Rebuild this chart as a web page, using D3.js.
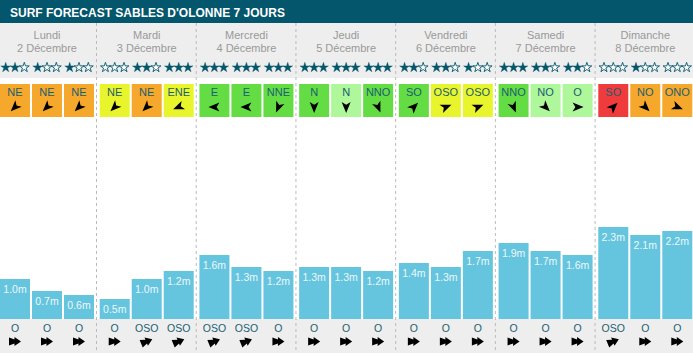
<!DOCTYPE html>
<html>
<head>
<meta charset="utf-8">
<script src="https://cdn.jsdelivr.net/npm/d3@7"></script>
<style>
	body { margin: 0; background: #fff; }
	svg { display: block; font-family: "Liberation Sans", Arial, Helvetica, sans-serif; }
</style>
</head>
<body>
<svg id="chart"></svg>
<script>
const title = "SURF FORECAST SABLES D'OLONNE 7 JOURS"
const days = ['Lundi', 'Mardi', 'Mercredi', 'Jeudi', 'Vendredi', 'Samedi', 'Dimanche']
const dates = ['2 Décembre', '3 Décembre', '4 Décembre', '5 Décembre', '6 Décembre', '7 Décembre', '8 Décembre']

// 3 creneaux par jour
const stars = [[2, 1, 1], [0, 2, 3], [3, 3, 3], [3, 3, 3], [2, 2, 1], [3, 2, 2], [0, 1, 0]]
const windDirs = [
	['NE', 'NE', 'NE'], ['NE', 'NE', 'ENE'], ['E', 'E', 'NNE'], ['N', 'N', 'NNO'],
	['SO', 'OSO', 'OSO'], ['NNO', 'NO', 'O'], ['SO', 'NO', 'ONO']
]
const windRating = [
	['orange', 'orange', 'orange'], ['jaune', 'orange', 'jaune'], ['vert', 'vert', 'vert'],
	['vert', 'vertclair', 'vert'], ['vert', 'jaune', 'jaune'], ['vert', 'vertclair', 'vertclair'],
	['rouge', 'orange', 'orange']
]
const waveHeights = [
	[1.0, 0.7, 0.6], [0.5, 1.0, 1.2], [1.6, 1.3, 1.2], [1.3, 1.3, 1.2],
	[1.4, 1.3, 1.7], [1.9, 1.7, 1.6], [2.3, 2.1, 2.2]
]
const swellDirs = [
	['O', 'O', 'O'], ['O', 'OSO', 'OSO'], ['OSO', 'OSO', 'O'], ['O', 'O', 'O'],
	['O', 'O', 'O'], ['O', 'O', 'O'], ['OSO', 'O', 'O']
]

const compass = ['N', 'NNE', 'NE', 'ENE', 'E', 'ESE', 'SE', 'SSE', 'S', 'SSO', 'SO', 'OSO', 'O', 'ONO', 'NO', 'NNO']
const angleOf = dir => compass.indexOf(dir) * 22.5

const width = 693
const height = 353
const teal = '#03566b'

const slots = []
days.forEach((day, i) => {
	d3.range(3).forEach(s => {
		slots.push({
			day, s,
			stars: stars[i][s],
			wind: windDirs[i][s],
			rating: windRating[i][s],
			wave: waveHeights[i][s],
			swell: swellDirs[i][s]
		})
	})
})

const scaleDay = d3.scaleBand().domain(days).range([0, 698])
const scaleSlot = d3.scaleBand().domain([0, 1, 2]).range([0, 94]).paddingInner(0.0625)
const scaleY = d3.scaleLinear().domain([0, 2.5]).range([319, 219])
const scaleRating = d3.scaleOrdinal()
	.domain(['rouge', 'orange', 'jaune', 'vertclair', 'vert'])
	.range(['#ef3b3b', '#f6a82c', '#e9f52c', '#aef79b', '#64dd45'])

const slotX = d => scaleDay(d.day) + scaleSlot(d.s)
const bw = scaleSlot.bandwidth()

const $svg = d3.select('#chart').attr('width', width).attr('height', height)

// fonds
$svg.append('rect').attr('width', width).attr('height', 23).attr('fill', teal)
$svg.append('rect').attr('y', 23).attr('width', width).attr('height', 55).attr('fill', '#eeeeee')
$svg.append('rect').attr('y', 319).attr('width', width).attr('height', height - 319).attr('fill', '#eeeeee')

$svg.append('text')
	.attr('x', 10).attr('y', 16.5)
	.attr('fill', '#fff')
	.attr('font-size', 12).attr('font-weight', 'bold')
	.text(title)

// separateurs
$svg.selectAll('line.sep')
	.data(days.slice(1))
	.join('line')
	.attr('class', 'sep')
	.attr('x1', d => scaleDay(d) - 3.2).attr('x2', d => scaleDay(d) - 3.2)
	.attr('y1', 23).attr('y2', height)
	.attr('stroke', '#bbb').attr('stroke-dasharray', '3,3')

// en-tetes jours
const $head = $svg.selectAll('g.day')
	.data(days)
	.join('g')
	.attr('class', 'day')
	.attr('transform', d => `translate(${scaleDay(d) + 47},0)`)

$head.append('text')
	.attr('y', 39).attr('text-anchor', 'middle')
	.attr('font-size', 11).attr('fill', '#999')
	.text(d => d)

$head.append('text')
	.attr('y', 52).attr('text-anchor', 'middle')
	.attr('font-size', 11).attr('fill', '#999')
	.text((d, i) => dates[i])

const $slot = $svg.selectAll('g.slot')
	.data(slots)
	.join('g')
	.attr('class', 'slot')
	.attr('transform', d => `translate(${slotX(d)},0)`)

// etoiles
const star = d3.symbol().type(d3.symbolStar).size(30)
$slot.selectAll('path.star')
	.data(d => d3.range(3).map(k => k < d.stars))
	.join('path')
	.attr('class', 'star')
	.attr('d', star)
	.attr('transform', (d, k) => `translate(${bw / 2 + (k - 1) * 9.3},67.5)`)
	.attr('fill', d => d ? teal : '#fff')
	.attr('stroke', teal)
	.attr('stroke-width', d => d ? 0.4 : 0.9)
	.attr('stroke-linejoin', 'round')

// vent
$slot.append('rect')
	.attr('y', 84).attr('width', bw).attr('height', 33)
	.attr('fill', d => scaleRating(d.rating))

$slot.append('text')
	.attr('x', bw / 2).attr('y', 96)
	.attr('text-anchor', 'middle')
	.attr('font-size', 11).attr('fill', '#1b5e70')
	.text(d => d.wind)

$slot.append('path')
	.attr('d', 'M0,-6L4.5,5L0,2.2L-4.5,5Z')
	.attr('transform', d => `translate(${bw / 2},107) rotate(${angleOf(d.wind) + 180})`)
	.attr('fill', '#000')

// houle
$slot.append('rect')
	.attr('y', d => scaleY(d.wave))
	.attr('width', bw)
	.attr('height', d => scaleY(0) - scaleY(d.wave))
	.attr('fill', '#65c4de')

$slot.append('text')
	.attr('x', bw / 2).attr('y', d => scaleY(d.wave) + 14)
	.attr('text-anchor', 'middle')
	.attr('font-size', 10.5).attr('fill', '#eef8fb')
	.text(d => d.wave.toFixed(1) + 'm')

$slot.append('text')
	.attr('x', bw / 2).attr('y', 331.5)
	.attr('text-anchor', 'middle')
	.attr('font-size', 10.5).attr('fill', '#1b5e70')
	.text(d => d.swell)

$slot.append('path')
	.attr('d', 'M-6,-4L-0.5,-2L-0.5,-4.5L6,0L-0.5,4.5L-0.5,2L-6,4Z')
	.attr('transform', d => `translate(${bw / 2},341.5) rotate(${angleOf(d.swell) + 90})`)
	.attr('fill', '#000')
</script>
</body>
</html>
